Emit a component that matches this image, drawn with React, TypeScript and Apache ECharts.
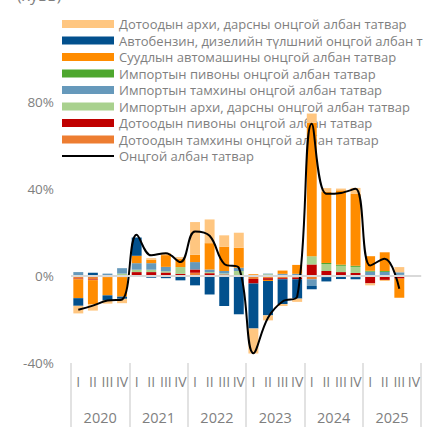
import React, { useEffect, useRef } from 'react';
import * as echarts from 'echarts';

const quarterLabels = ['I', 'II', 'III', 'IV', 'I', 'II', 'III', 'IV', 'I', 'II', 'III', 'IV', 'I', 'II', 'III', 'IV', 'I', 'II', 'III', 'IV', 'I', 'II', 'III', 'IV'];
const yearLabels = ['2020', '2021', '2022', '2023', '2024', '2025'];
const yTickFormat = '{value}%';

// Дотоодын архи, дарсны
const domAlcohol = [-3.5, -3, -1.5, -2, 0, 0.7, 1, 0.8, 15, 10.9, 5.2, 6.9, -11.5, -2.3, -0.9, -1.5, 4.3, 1.8, 0.8, 2.6, -0.9, -0.5, 2.4, 0];
// Автобензин, дизелийн түлш
const fuel = [-3.5, 1.2, -2.3, -1, 8.4, -0.8, -1, -2, -4.3, -8.5, -13.8, -17.6, -20.7, -15.8, -11.4, -8.9, -1.5, -2, -1.4, -1, 0, 0, 0, 0];
// Суудлын автомашин
const cars = [-8.7, -11, -8.4, -9, 3.4, 1.6, 5.4, 3.8, 3.4, 12.1, 11.2, 9.2, 0.8, -0.5, 1.5, 4.1, 61.3, 32.6, 34.2, 33.2, 6.7, 8.6, -8.8, 0];
// Импортын пиво
const impBeer = [0, 0, 0, 0, 0, 0, 0, 0, 0, 0, 0, 0, 0, 0, 0, 0, 0, 0.5, 0.5, 0.5, 0.4, 0.4, 0, 0];
// Импортын тамхи
const impTobacco = [1.5, 0.3, 1.1, 2.5, 3, 3, 2, 0, 3.4, 1.2, 1.1, 1.5, 0, 0.3, 0.5, 1, -3.1, 0, 0, -0.5, 2, 1.5, 1.2, 0];
// Импортын архи, дарс
const impAlcohol = [0.3, 0, 0, 0.8, 1.1, 1.1, 0.6, 3.1, 0, 0.5, 0.5, 2, 0, 0.8, 0.5, 0, 3.8, 3.2, 2.9, 2.8, 0, 0.4, 0.5, 0];
// Дотоодын пиво
const domBeer = [-0.3, -0.3, 0, 0.3, 1.5, 1.5, 1.2, 0.7, 1.5, 1, 0.4, 0, -2, -0.8, -0.5, -0.8, 5.3, 2.3, 1.8, 1.4, -3.4, -1.5, -1.2, 0];
// Дотоодын тамхи
const domTobacco = [-1.2, -1.6, -0.5, -0.5, 0.3, 0.3, 0.4, 0.3, 1.5, 0.3, 0.3, 0.3, -1.4, -1, -1, -0.7, -1.5, -0.5, 0, 0, 0, -0.3, 0, -0.4];
// Онцгой албан татвар (нийт)
const totalExcise = [-15.5, -13.6, -11.3, -10.8, 19, 9.5, 10.5, 6.4, 20.5, 18.5, 5.6, 3.8, -35.5, -19.2, -11.7, -9.5, 70, 37.8, 38.2, 40.1, 4.8, 7.9, -5.9, null];

const N_A = 'Дотоодын архи, дарсны онцгой албан татвар';
const N_B = 'Автобензин, дизелийн түлшний онцгой албан татвар';
const N_C = 'Суудлын автомашины онцгой албан татвар';
const N_D = 'Импортын пивоны онцгой албан татвар';
const N_E = 'Импортын тамхины онцгой албан татвар';
const N_F = 'Импортын архи, дарсны онцгой албан татвар';
const N_G = 'Дотоодын пивоны онцгой албан татвар';
const N_H = 'Дотоодын тамхины онцгой албан татвар';
const N_L = 'Онцгой албан татвар';

const FONT = 'Open Sans';
const GRAY = '#7f7f7f';
const LINE_ICON = 'path://M0,0L0.01,0L0,0.01Z M0,3H52V5H0Z M0,8L0.01,8L0,7.99Z';

export default function App() {
  const ref = useRef<HTMLDivElement>(null);
  useEffect(() => {
    const chart = echarts.init(ref.current!, null, { renderer: 'svg' });
    const bar = (name: string, data: number[], color: string) => ({
      name,
      type: 'bar',
      stack: 'total',
      data,
      barCategoryGap: '32%',
      itemStyle: { color },
      z: 2,
    });
    chart.setOption({
      animation: false,
      textStyle: { fontFamily: FONT },
      grid: { left: 71, right: 0, top: 102, bottom: 64 },
      graphic: [
        {
          type: 'text',
          left: 17,
          top: -13,
          style: { text: '(хувь)', fontSize: 16, fill: GRAY, fontFamily: FONT },
        },
      ],
      legend: {
        orient: 'vertical',
        left: 57,
        top: 12,
        z: 1,
        itemWidth: 52,
        itemHeight: 8,
        itemGap: 2.5,
        textStyle: { fontSize: 13, color: GRAY, lineHeight: 14, fontFamily: FONT },
        data: [
          { name: N_A, icon: 'rect' },
          { name: N_B, icon: 'rect' },
          { name: N_C, icon: 'rect' },
          { name: N_D, icon: 'rect' },
          { name: N_E, icon: 'rect' },
          { name: N_F, icon: 'rect' },
          { name: N_G, icon: 'rect' },
          { name: N_H, icon: 'rect' },
          { name: N_L, icon: LINE_ICON, itemStyle: { color: '#000000' } },
        ],
      },
      xAxis: [
        {
          type: 'category',
          data: quarterLabels,
          position: 'bottom',
          axisLine: { show: false, onZero: false },
          axisTick: { show: false },
          axisLabel: { interval: 0, margin: 11, fontSize: 14, color: GRAY, fontFamily: FONT },
        },
        {
          type: 'category',
          data: yearLabels,
          position: 'bottom',
          axisLine: { show: false, onZero: false },
          axisTick: { show: true, interval: 0, length: 66, lineStyle: { color: '#d9d9d9', width: 1.5 } },
          axisLabel: { interval: 0, margin: 47, fontSize: 14.5, color: GRAY, fontFamily: FONT },
        },
      ],
      yAxis: {
        type: 'value',
        min: -40,
        max: 80,
        interval: 40,
        axisLine: { show: false },
        axisTick: { show: false },
        splitLine: { show: false },
        axisLabel: { formatter: yTickFormat, fontSize: 13.5, color: GRAY, margin: 17, fontFamily: FONT },
      },
      series: [
        bar(N_H, domTobacco, '#ED7D31'),
        bar(N_G, domBeer, '#C00000'),
        bar(N_F, impAlcohol, '#A9D18E'),
        bar(N_E, impTobacco, '#6699BB'),
        bar(N_D, impBeer, '#4EA72E'),
        bar(N_C, cars, '#FF8C00'),
        bar(N_B, fuel, '#02508D'),
        bar(N_A, domAlcohol, '#FFC680'),
        {
          name: N_L,
          type: 'line',
          data: totalExcise,
          smooth: 0.4,
          symbol: 'none',
          z: 4,
          lineStyle: { color: '#000000', width: 2 },
          itemStyle: { color: '#000000' },
          markLine: {
            silent: true,
            symbol: 'none',
            label: { show: false },
            lineStyle: { color: '#d9d9d9', type: 'solid', width: 2 },
            data: [{ yAxis: 0 }],
          },
        },
      ],
    });
    return () => chart.dispose();
  }, []);
  return <div ref={ref} style={{ position: 'absolute', left: 0, top: 0, width: 423, height: 427 }} />;
}
